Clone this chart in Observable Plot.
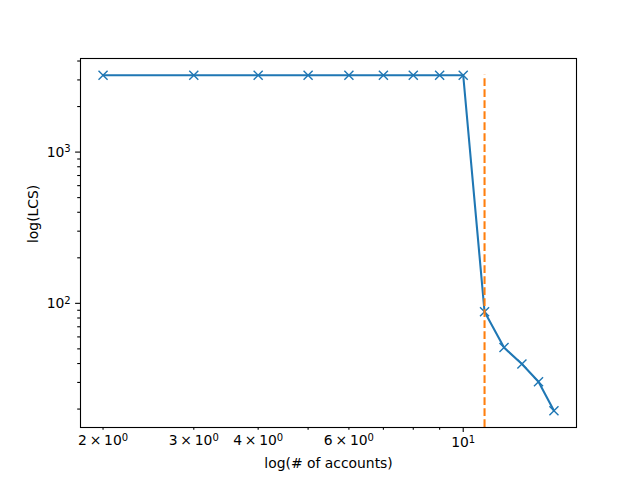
<!DOCTYPE html>
<html><head><meta charset="utf-8">
<script src="https://cdn.jsdelivr.net/npm/d3@7"></script>
<script src="https://cdn.jsdelivr.net/npm/@observablehq/plot@0.6"></script>
<style>body{margin:0;background:#fff} svg{font-family:"DejaVu Sans",sans-serif;}</style>
</head><body><div id="chart"></div>
<script>
const accounts = [2, 3, 4, 5, 6, 7, 8, 9, 10, 11, 12, 13, 14, 15];
const lcs = [3220, 3220, 3220, 3220, 3220, 3220, 3220, 3220, 3220, 88, 51, 39.7, 30.3, 19.5];
const cutoff = 11;
const xMajor = [10];
const xMinor = [2, 3, 4, 5, 6, 7, 8, 9];
const xLabels = {2: "2\u2009×\u200910^0", 3: "3\u2009×\u200910^0", 4: "4\u2009×\u200910^0", 6: "6\u2009×\u200910^0", 10: "10^1"};
const yMajor = [100, 1000];
const yMinor = [20, 30, 40, 50, 60, 70, 80, 90, 200, 300, 400, 500, 600, 700, 800, 900, 2000, 3000, 4000];
const yLabels = {100: "10^2", 1000: "10^3"};
const xTitle = "log(# of accounts)";
const yTitle = "log(LCS)";

function logDomain(vals) {
  const [a, b] = d3.extent(vals.map(Math.log10));
  const p = (b - a) * 0.05;
  return [10 ** (a - p), 10 ** (b + p)];
}
const xDom = logDomain(accounts);
const yDom = logDomain(lcs);
const data = accounts.map((a, i) => ({a, v: lcs[i]}));
const fs = 13.9;

const chart = Plot.plot({
  width: 640, height: 480,
  marginLeft: 80, marginRight: 64, marginTop: 58, marginBottom: 53,
  style: {fontFamily: "DejaVu Sans", color: "black", background: "white"},
  x: {type: "log", domain: xDom},
  y: {type: "log", domain: yDom},
  marks: [
    Plot.axisX({ticks: xMinor, tickSize: 2.8, tickPadding: 4.9, strokeWidth: 1.1, fontSize: fs, tickFormat: d => xLabels[d] ?? "", label: null}),
    Plot.axisX({ticks: xMajor, tickSize: 4.9, tickPadding: 4.9, strokeWidth: 1.1, fontSize: fs, tickFormat: d => xLabels[d] ?? "", label: null}),
    Plot.axisY({ticks: yMinor, tickSize: 2.8, tickPadding: 4.9, strokeWidth: 1.1, fontSize: fs, tickFormat: () => "", label: null}),
    Plot.axisY({ticks: yMajor, tickSize: 4.9, tickPadding: 4.9, strokeWidth: 1.1, fontSize: fs, tickFormat: d => yLabels[d] ?? "", label: null}),
    Plot.line(data, {x: "a", y: "v", stroke: "#1f77b4", strokeWidth: 2.08}),
    Plot.dot(data, {x: "a", y: "v", symbol: "times", r: 4.2, stroke: "#1f77b4", strokeWidth: 1.39}),
    Plot.ruleX([cutoff], {y1: yDom[0], y2: d3.max(lcs), stroke: "#ff7f0e", strokeWidth: 2.08, strokeDasharray: "7.7,3.3"}),
    Plot.frame({stroke: "black", strokeWidth: 1.1}),
    Plot.text([xTitle], {frameAnchor: "bottom", dy: 40, fontSize: fs, fill: "black"}),
    Plot.text([yTitle], {frameAnchor: "left", dx: -47, rotate: -90, fontSize: fs, fill: "black"})
  ]
});
// render "a^b" tick labels as base + raised superscript
d3.select(chart).selectAll("text").each(function() {
  const t = this.textContent;
  if (!t.includes("^")) return;
  const [base, sup] = t.split("^");
  const el = d3.select(this);
  el.text(null);
  el.append("tspan").text(base);
  el.append("tspan").attr("dy", "-0.42em").attr("font-size", "0.72em").text(sup);
});
document.getElementById("chart").appendChild(chart);
</script>
</body></html>
